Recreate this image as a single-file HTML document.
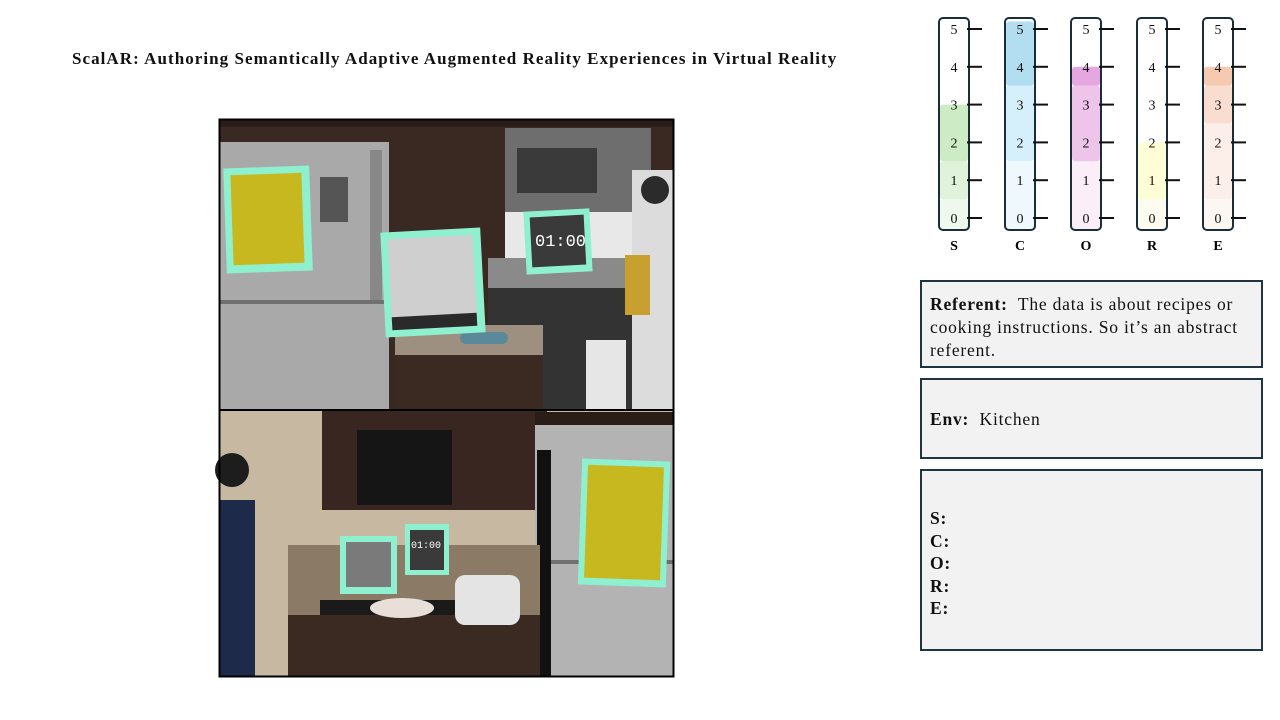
<!DOCTYPE html>
<html><head><meta charset="utf-8">
<style>
body{margin:0;width:1280px;height:720px;background:#fff;position:relative;overflow:hidden;font-family:"Liberation Serif",serif;color:#111}
.title{position:absolute;left:72px;top:49px;font-size:17px;font-weight:bold;letter-spacing:1.05px;white-space:nowrap}
.box{position:absolute;left:920px;width:343px;background:#f2f2f2;border:2px solid #1f3340;box-sizing:border-box;font-size:17.5px;line-height:23px;padding:0 8px;letter-spacing:0.8px}
</style></head><body>
<div class="title">ScalAR: Authoring Semantically Adaptive Augmented Reality Experiences in Virtual Reality</div>

<svg style="position:absolute;left:0;top:0" width="700" height="720">
<rect x="219" y="119" width="455" height="291" fill="#3a2822"/>
<rect x="219" y="119" width="455" height="8" fill="#2a1c18"/>
<rect x="219" y="142" width="170" height="268" fill="#a9a9a9"/>
<rect x="219" y="300" width="170" height="4" fill="#707070"/>
<rect x="370" y="150" width="12" height="150" fill="#888"/>
<rect x="505" y="128" width="146" height="84" fill="#6e6e6e"/>
<rect x="517" y="148" width="80" height="45" fill="#3a3a3a"/>
<rect x="505" y="212" width="130" height="48" fill="#e8e8e8"/>
<rect x="488" y="258" width="145" height="152" fill="#333"/>
<rect x="488" y="258" width="145" height="30" fill="#8a8a8a"/>
<rect x="395" y="325" width="148" height="30" fill="#9e9080"/>
<rect x="395" y="355" width="148" height="55" fill="#3a2a22"/>
<rect x="586" y="340" width="40" height="70" fill="#e6e6e6"/>
<rect x="632" y="170" width="42" height="240" fill="#dcdcdc"/>
<circle cx="655" cy="190" r="14" fill="#2b2b2b"/>
<rect x="625" y="255" width="25" height="60" fill="#c8a030"/>
<rect x="460" y="332" width="48" height="12" rx="6" fill="#5a8a9a"/>
<rect x="225" y="167" width="86" height="105" fill="#8ff0d0" transform="rotate(-2 268 220)"/>
<rect x="232" y="174" width="71" height="90" fill="#c8b820" transform="rotate(-2 268 220)"/>
<rect x="320" y="177" width="28" height="45" fill="#555"/>
<rect x="383" y="230" width="100" height="105" fill="#8ff0d0" transform="rotate(-3 433 283)"/>
<rect x="390" y="237" width="85" height="78" fill="#cfcfcf" transform="rotate(-3 433 283)"/>
<rect x="390" y="315" width="85" height="13" fill="#2a2a2a" transform="rotate(-3 433 283)"/>
<rect x="525" y="210" width="66" height="63" fill="#8ff0d0" transform="rotate(-3 558 242)"/>
<rect x="531" y="216" width="54" height="50" fill="#3a3a3a" transform="rotate(-3 558 242)"/>
<text x="535" y="246" font-family="Liberation Mono,monospace" font-size="17" fill="#fff">01:00</text>
<rect x="219" y="410" width="455" height="267" fill="#c7b8a2"/>
<rect x="322" y="410" width="225" height="100" fill="#3a2620"/>
<rect x="357" y="430" width="95" height="75" fill="#151515"/>
<rect x="535" y="412" width="139" height="20" fill="#2a1d18"/>
<rect x="535" y="425" width="139" height="252" fill="#b3b3b3"/>
<rect x="535" y="560" width="139" height="4" fill="#707070"/>
<rect x="537" y="450" width="14" height="227" fill="#111"/>
<rect x="580" y="460" width="88" height="126" fill="#8ff0d0" transform="rotate(2 624 523)"/>
<rect x="586" y="466" width="76" height="113" fill="#c8b820" transform="rotate(2 624 523)"/>
<rect x="288" y="545" width="252" height="70" fill="#8a7a66"/>
<rect x="320" y="600" width="200" height="30" fill="#1a1a1a"/>
<rect x="288" y="615" width="252" height="62" fill="#3a2a22"/>
<ellipse cx="402" cy="608" rx="32" ry="10" fill="#e8e0d8"/>
<rect x="455" y="575" width="65" height="50" rx="10" fill="#e4e4e4"/>
<rect x="340" y="536" width="57" height="58" fill="#8ff0d0"/>
<rect x="346" y="542" width="45" height="45" fill="#7a7a7a"/>
<rect x="405" y="524" width="44" height="51" fill="#8ff0d0"/>
<rect x="410" y="530" width="34" height="40" fill="#3a3a3a"/>
<text x="411" y="548" font-family="Liberation Mono,monospace" font-size="10" fill="#fff">01:00</text>
<rect x="219" y="500" width="36" height="177" fill="#1e2a4a"/>
<circle cx="232" cy="470" r="17" fill="#1d1d1d"/>
<rect x="219.5" y="119.5" width="454" height="557" fill="none" stroke="#000" stroke-width="2"/>
<line x1="219" y1="410" x2="674" y2="410" stroke="#000" stroke-width="2"/>
</svg>

<svg id="gauges" style="position:absolute;left:920px;top:0" width="340" height="270"></svg>

<div class="box" style="top:280px;height:88px;padding-top:11px"><b>Referent:</b>&nbsp; The data is about recipes or cooking instructions. So it’s an abstract referent.</div>
<div class="box" style="top:378px;height:81px;padding-top:28px"><b>Env:</b>&nbsp; Kitchen</div>
<div class="box" style="top:469px;height:182px;padding-top:36px;font-weight:bold;line-height:22.5px">S:<br>C:<br>O:<br>R:<br>E:</div>

<script>
const gaugeLabels = ["S","C","O","R","E"];
const tickValues = [0,1,2,3,4,5];
// segments per gauge: [from, to] in score units
const segFrom = [[-0.4,0.5,1.5],[-0.4,1.5,3.5],[-0.4,1.5,3.5],[-0.4,0.5],[-0.4,0.5,2.5,3.5]];
const segTo   = [[0.5,1.5,3],[1.5,3.5,5.2],[1.5,3.5,4],[0.5,2],[0.5,2.5,3.5,4]];
const segColors = [["#eef8ec","#e0f2da","#cdebc4"],["#eef8fd","#d6f0fb","#b3def2"],["#fbeef8","#efc4ea","#e6a6df"],["#fdfdef","#fdfdd6"],["#fdf7f4","#fcefe9","#f9ddd0","#f6cab0"]];
const gsvg = document.getElementById('gauges');
const NS = "http://www.w3.org/2000/svg";
const gx0 = 19, gdx = 66, gw = 30;
function gy(v){ return 218 - v*37.8; }
const gTop = 18, gBottom = 230;
gaugeLabels.forEach((lab,i)=>{
  const gx = gx0 + i*gdx;
  segFrom[i].forEach((f,j)=>{
    const r = document.createElementNS(NS,'rect');
    const y1 = Math.max(gy(segTo[i][j]), gTop+1), y2 = Math.min(gy(f), gBottom-1);
    r.setAttribute('x',gx+1); r.setAttribute('y',y1);
    r.setAttribute('width',gw-2); r.setAttribute('height',y2-y1);
    r.setAttribute('rx',3); r.setAttribute('fill',segColors[i][j]);
    
    
    gsvg.appendChild(r);
  });
  const o = document.createElementNS(NS,'rect');
  o.setAttribute('x',gx); o.setAttribute('y',gTop); o.setAttribute('width',gw); o.setAttribute('height',gBottom-gTop);
  o.setAttribute('rx',4); o.setAttribute('fill','none'); o.setAttribute('stroke','#1a2e3a'); o.setAttribute('stroke-width','2');
  
  
  gsvg.appendChild(o);
  tickValues.forEach(v=>{
    const l = document.createElementNS(NS,'line');
    l.setAttribute('x1',gx+gw-2); l.setAttribute('x2',gx+gw+13);
    l.setAttribute('y1',gy(v)); l.setAttribute('y2',gy(v));
    l.setAttribute('stroke','#111'); l.setAttribute('stroke-width','2');
    
    
    gsvg.appendChild(l);
    const t = document.createElementNS(NS,'text');
    t.setAttribute('x',gx+gw/2); t.setAttribute('y',gy(v)+5);
    t.setAttribute('text-anchor','middle'); t.setAttribute('font-size','14');
    t.setAttribute('font-family','Liberation Serif, serif'); t.setAttribute('fill','#111');
    t.textContent = v;
    
    
    gsvg.appendChild(t);
  });
  const lt = document.createElementNS(NS,'text');
  lt.setAttribute('x',gx+gw/2); lt.setAttribute('y',250);
  lt.setAttribute('text-anchor','middle'); lt.setAttribute('font-size','14'); lt.setAttribute('font-weight','bold');
  lt.setAttribute('font-family','Liberation Serif, serif');
  lt.textContent = lab;
  
  
  gsvg.appendChild(lt);
});
</script>
</body></html>
